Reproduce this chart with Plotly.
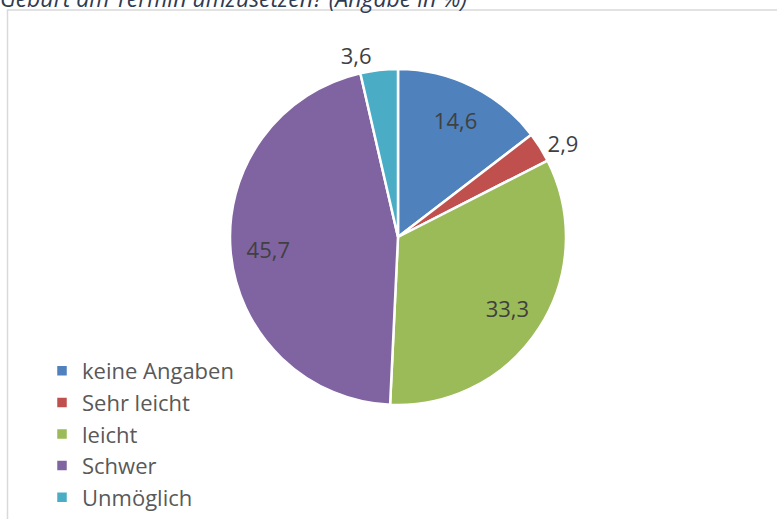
import plotly.graph_objects as go

categories = ["keine Angaben", "Sehr leicht", "leicht", "Schwer", "Unmöglich"]
values = [14.6, 2.9, 33.3, 45.7, 3.6]
colors = ["#4F81BD", "#C0504D", "#9BBB59", "#8064A2", "#4BACC6"]
ring_text_positions = ["inside", "outside", "inside", "inside", "outside"]
labels_text = [f"{v:.1f}".replace(".", ",") for v in values]

W, H = 777, 519
cx, cy, r = 398, 237, 168
dom = dict(x=[(cx - r) / W, (cx + r) / W], y=[1 - (cy + r) / H, 1 - (cy - r) / H])
FONT = "Open Sans"
TXT = dict(family=FONT, size=22, color="#404040")

fig = go.Figure()
# filled pie (no labels)
fig.add_trace(go.Pie(
    labels=categories, values=values,
    textinfo="none",
    sort=False, direction="clockwise", rotation=0,
    marker=dict(colors=colors, line=dict(color="white", width=2.5)),
    domain=dom, hoverinfo="label+value",
))
# transparent ring carrying the data labels (places them at ~0.77 r like the original)
fig.add_trace(go.Pie(
    labels=categories, values=values,
    text=labels_text, texttemplate="%{text}",
    textposition=ring_text_positions,
    insidetextorientation="horizontal",
    hole=0.55,
    sort=False, direction="clockwise", rotation=0,
    marker=dict(colors=["rgba(0,0,0,0)"] * len(values), line=dict(width=0)),
    textfont=TXT, insidetextfont=TXT, outsidetextfont=TXT,
    domain=dom, showlegend=False, hoverinfo="skip",
))

fig.update_layout(
    width=W, height=H,
    margin=dict(l=0, r=0, t=0, b=0),
    paper_bgcolor="white",
    plot_bgcolor="white",
    showlegend=True,
    legend=dict(
        x=42 / W, y=1 - 350 / H, xanchor="left", yanchor="top",
        font=dict(family=FONT, size=22, color="#595959"),
        bgcolor="rgba(0,0,0,0)",
        traceorder="normal",
    ),
    shapes=[dict(type="rect", xref="paper", yref="paper",
                 x0=7.5 / W, x1=1.02, y0=-0.02, y1=1 - 10 / H,
                 line=dict(color="#D9D9D9", width=1.5), fillcolor="rgba(0,0,0,0)")],
    annotations=[dict(text="Geburt am Termin umzusetzen? (Angabe in %)",
                      xref="paper", yref="paper", x=-2 / W, y=1 + 2 / H,
                      xanchor="left", yanchor="middle", showarrow=False,
                      font=dict(family=FONT, size=23, color="#2F3B52", style="italic"))],
)

fig.write_html("out.html", config={"displayModeBar": False},
               post_script="document.body.style.margin='0';")
